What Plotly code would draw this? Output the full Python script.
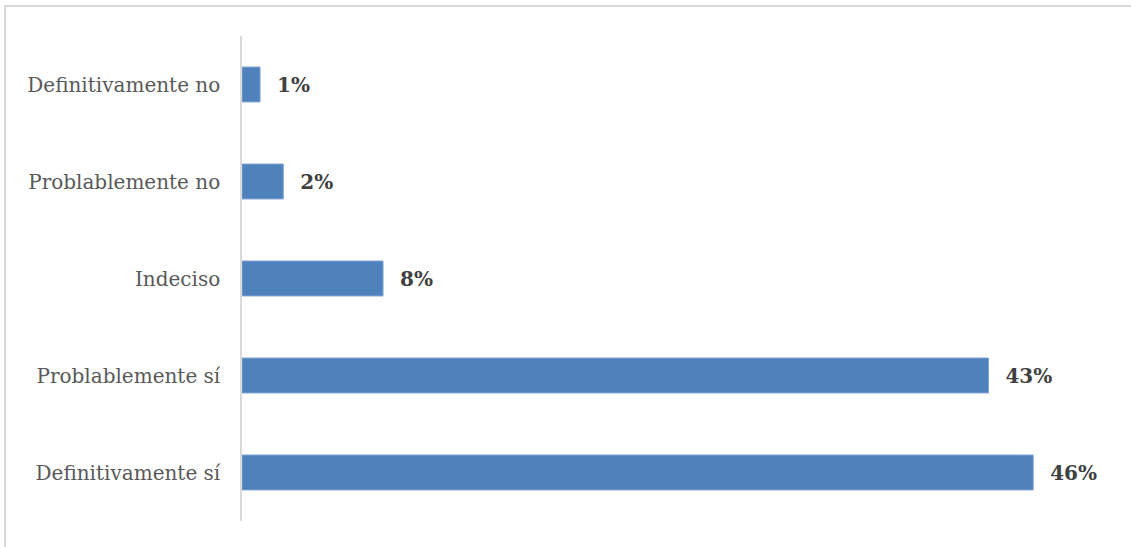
import plotly.graph_objects as go

categories = ["Definitivamente sí", "Problablemente sí", "Indeciso", "Problablemente no", "Definitivamente no"]
values = [46.0, 43.4, 8.2, 2.4, 1.05]
labels = ["46%", "43%", "8%", "2%", "1%"]

W, H = 1131, 547
ml, mr, mt, mb = 242, 29, 36, 26
pw, ph = W - ml - mr, H - mt - mb

fig = go.Figure(go.Bar(
    y=categories, x=values, orientation="h",
    text=labels, texttemplate="\u00a0\u00a0%{text}",
    textposition="outside", cliponaxis=False,
    textfont=dict(family="DejaVu Serif", size=20, color="#404040", weight="bold"),
    marker=dict(color="#4F81BD", line=dict(color="#7FA3D3", width=1)),
    hoverinfo="skip",
))

fig.update_layout(
    width=W, height=H,
    margin=dict(l=ml, r=mr, t=mt, b=mb),
    paper_bgcolor="white", plot_bgcolor="white",
    bargap=0.64, showlegend=False,
    xaxis=dict(range=[0, 50], visible=False, fixedrange=True),
    yaxis=dict(
        showline=True, linecolor="#D9D9D9", linewidth=1.5,
        showgrid=False, ticks="", ticklabelstandoff=16,
        tickfont=dict(family="DejaVu Serif", size=20, color="#595959"),
        fixedrange=True,
    ),
    shapes=[dict(
        type="rect", xref="paper", yref="paper",
        x0=(5 - ml) / pw, x1=1.2, y0=-0.3, y1=1 + (mt - 6) / ph,
        line=dict(color="#D9D9D9", width=2), fillcolor="rgba(0,0,0,0)",
    )],
)

fig.write_html("out.html")
